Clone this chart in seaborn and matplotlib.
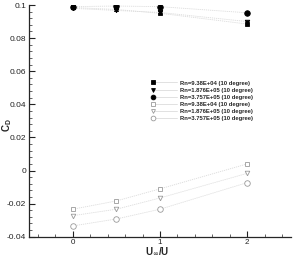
import matplotlib
matplotlib.use("Agg")
import matplotlib.pyplot as plt
import seaborn as sns
import pandas as pd
from matplotlib.lines import Line2D
from matplotlib.legend_handler import HandlerLine2D
from matplotlib.ticker import MultipleLocator

sns.set_style("ticks")
plt.rcParams['font.family'] = ['Liberation Sans', 'DejaVu Sans']

x_vals = [0, 0.5, 1, 2]
labels = ["Rn=9.38E+04 (10 degree)", "Rn=1.876E+05 (10 degree)", "Rn=3.757E+05 (10 degree)",
          "Rn=9.38E+04 (10 degree)", "Rn=1.876E+05 (10 degree)", "Rn=3.757E+05 (10 degree)"]
cd_sq_filled = [0.0985, 0.0973, 0.0950, 0.0885]
cd_tri_filled = [0.0980, 0.0967, 0.0955, 0.0900]
cd_circ_filled = [0.0990, 0.0994, 0.0990, 0.0953]
cd_sq_open = [-0.0234, -0.0184, -0.0111, 0.0040]
cd_tri_open = [-0.0273, -0.0234, -0.0166, -0.0017]
cd_circ_open = [-0.0335, -0.0293, -0.0234, -0.0073]

series = [cd_sq_filled, cd_tri_filled, cd_circ_filled, cd_sq_open, cd_tri_open, cd_circ_open]
markers = ['s', 'v', 'o', 's', 'v', 'o']
msizes = [3.0, 3.3, 4.0, 3.0, 3.3, 4.0]
filled = [True, True, True, False, False, False]


class LeftMarkerHandler(HandlerLine2D):
    def create_artists(self, legend, orig_handle, xdescent, ydescent, width, height,
                       fontsize, trans):
        artists = super().create_artists(legend, orig_handle, xdescent, ydescent, width,
                                         height, fontsize, trans)
        line = artists[0]
        xd = line.get_xdata()
        yd = line.get_ydata()
        x0, x1 = xd[0], xd[-1]
        m = x0 + 0.06 * (x1 - x0)
        line.set_data([m, m + 0.2 * (x1 - x0), x1], [yd[0], yd[0], yd[0]])
        line.set_markevery([0])
        return artists


fig = plt.figure(figsize=(2.93, 2.57), dpi=100)
ax = fig.add_axes([0.099, 0.079, 0.894, 0.9015])

handles = []
for vals, mk, ms, fl, lab in zip(series, markers, msizes, filled, labels):
    df = pd.DataFrame({"x": x_vals, "y": vals})
    if fl:
        mfc, mec = 'black', 'black'
    else:
        mfc, mec = 'white', '#9a9a9a'
    sns.lineplot(data=df, x="x", y="y", ax=ax, color='#dcdcdc', linewidth=0.6,
                 linestyle=(0, (1.5, 1)), marker=mk, markersize=ms,
                 markerfacecolor=mfc, markeredgecolor=mec, markeredgewidth=0.6)
    handles.append(Line2D([], [], color='#dcdcdc', linewidth=0.6, marker=mk,
                          markersize=ms * 0.85, markerfacecolor=mfc, markeredgecolor=mec,
                          markeredgewidth=0.6))

ax.set_xlim(-0.5, 2.5)
ax.set_ylim(-0.04, 0.1)
ax.set_xticks([0, 1, 2])
ax.set_xticklabels(["0", "1", "2"])
ax.set_yticks([-0.04, -0.02, 0, 0.02, 0.04, 0.06, 0.08, 0.1])
ax.set_yticklabels(["-0.04", "-0.02", "0", "0.02", "0.04", "0.06", "0.08", "0.1"])
ax.xaxis.set_minor_locator(MultipleLocator(0.2))
ax.yaxis.set_minor_locator(MultipleLocator(0.004))
ax.tick_params(axis='both', which='major', direction='in', length=4, width=0.8,
               labelsize=6.0, colors='#222222', pad=2)
ax.tick_params(axis='x', which='major', pad=1.5, labelsize=5.8)
ax.tick_params(axis='both', which='minor', direction='in', length=2, width=0.5)
for s in ['top', 'right']:
    ax.spines[s].set_visible(False)
for s in ['left', 'bottom']:
    ax.spines[s].set_linewidth(0.9)
ax.set_xlabel("")
ax.set_ylabel("")
fig.text(0.536, 0.0, r"U$_\infty$/U", fontsize=7, fontweight='bold', ha='center', va='bottom')
fig.text(0.024, 0.515, r"C$_\mathregular{D}$", fontsize=7, fontweight='bold', rotation=90,
         ha='center', va='center')

leg = ax.legend(handles, labels, loc='upper left', bbox_to_anchor=(0.455, 0.687),
                frameon=False, prop={'size': 4.2, 'weight': 'bold'}, labelspacing=0.35,
                handlelength=4.4, handletextpad=0.6, borderpad=0,
                handler_map={Line2D: LeftMarkerHandler(numpoints=1)})

fig.savefig("out.png", dpi=100)
